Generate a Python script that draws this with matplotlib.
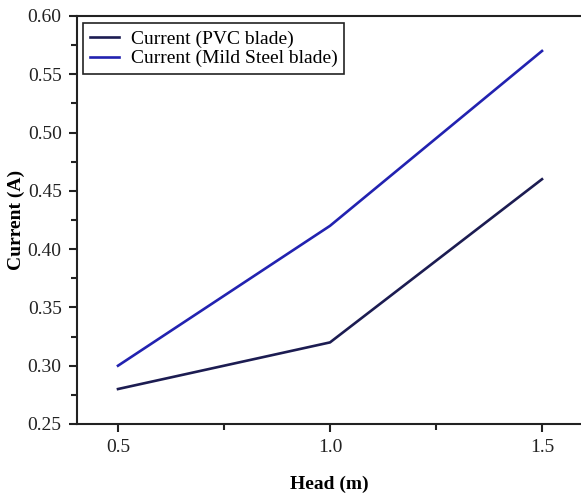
import matplotlib.pyplot as plt
from matplotlib.ticker import MultipleLocator

plt.rcParams['font.family'] = ['Liberation Serif', 'DejaVu Serif']

head = [0.5, 1.0, 1.5]
current_pvc = [0.28, 0.32, 0.46]
current_ms = [0.30, 0.42, 0.57]
labels = ['Current (PVC blade)', 'Current (Mild Steel blade)']

fig = plt.figure(figsize=(5.81, 4.93), dpi=100)
# frame runs to the right edge of the picture, right spine cut off
ax = fig.add_axes([77 / 581, 1 - 424 / 493, 505 / 581, 408 / 493])

ax.plot(head, current_pvc, color='#1c1c52', lw=1.9, label=labels[0])
ax.plot(head, current_ms, color='#2222b0', lw=1.9, label=labels[1])

px = 0.5 / 212  # data units per pixel along x
ax.set_xlim(0.5 - 41 * px, 0.5 - 41 * px + 505 * px)
ax.set_ylim(0.25, 0.60)
ax.xaxis.set_major_locator(MultipleLocator(0.5))
ax.xaxis.set_minor_locator(MultipleLocator(0.25))
ax.yaxis.set_major_locator(MultipleLocator(0.05))
ax.yaxis.set_minor_locator(MultipleLocator(0.025))
ax.xaxis.set_major_formatter(plt.FormatStrFormatter('%.1f'))
ax.yaxis.set_major_formatter(plt.FormatStrFormatter('%.2f'))
ax.tick_params(which='both', direction='out', width=1.5, labelsize=14,
               colors='#222222', top=False, right=False)
ax.tick_params(which='major', length=6, pad=5)
ax.tick_params(which='minor', length=4)
for s in ax.spines.values():
    s.set_linewidth(1.5)
    s.set_color('#222222')
ax.spines['right'].set_color('#bbbbbb')
ax.spines['right'].set_linewidth(0.8)

ax.set_xlabel('Head (m)', fontsize=14, fontweight='bold', labelpad=14)
ax.set_ylabel('Current (A)', fontsize=14, fontweight='bold', labelpad=2)

leg = ax.legend(loc='upper left', bbox_to_anchor=(0.012, 0.982), fontsize=14,
                fancybox=False, edgecolor='#222222', framealpha=1,
                handlelength=1.5, borderaxespad=0.0, labelspacing=0.1,
                borderpad=0.35, handletextpad=0.6)
leg.get_frame().set_linewidth(1.2)

fig.savefig('out.png', dpi=100)
